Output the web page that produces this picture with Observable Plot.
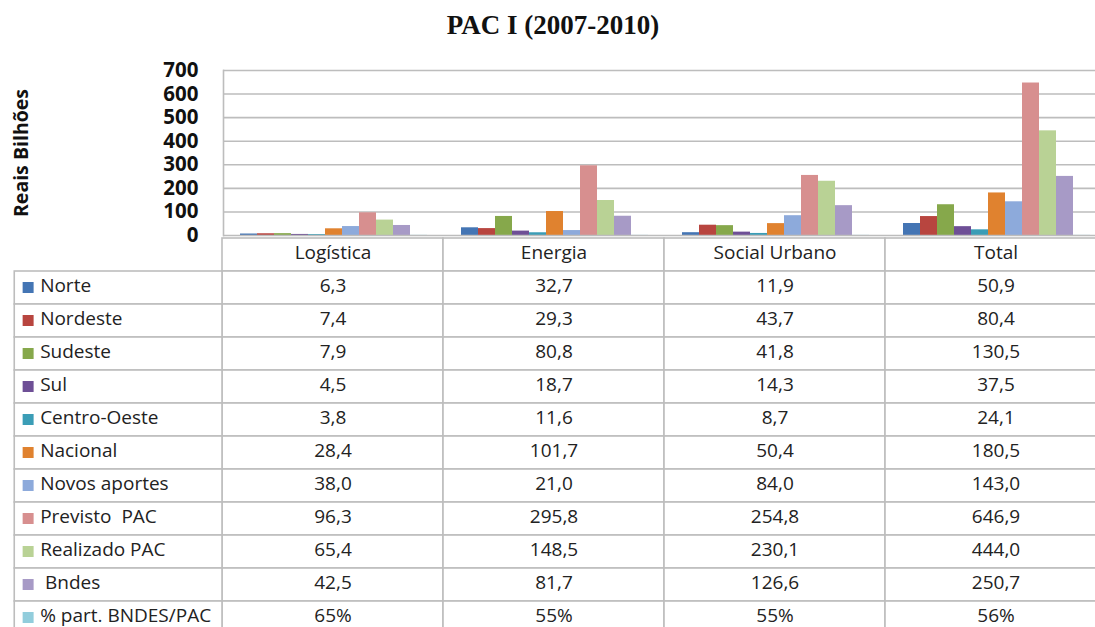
<!DOCTYPE html>
<html>
<head>
<meta charset="utf-8">
<script src="https://cdn.jsdelivr.net/npm/d3@7"></script>
<script src="https://cdn.jsdelivr.net/npm/@observablehq/plot@0.6"></script>
<style>
  html, body { margin: 0; padding: 0; background: #ffffff; overflow: hidden; }
  #wrap { position: relative; width: 1095px; height: 627px; overflow: hidden; }
  #title { position: absolute; top: 12px; left: 0; width: 1106px; text-align: center;
           font: bold 27px/1 "Liberation Serif", "Times New Roman", serif; color: #111; }
  #chart { position: absolute; top: 0; left: 0; }
  #table { position: absolute; top: 233px; left: 0; }
  svg text { white-space: pre; }
</style>
</head>
<body>
<div id="wrap">
  <div id="title"></div>
  <div id="chart"></div>
  <div id="table"></div>
</div>
<script>
// ---- data ----
const titleText = "PAC I (2007-2010)";
const yLabel = "Reais Bilhões";
const categories = ["Logística", "Energia", "Social Urbano", "Total"];
const seriesNames = ["Norte", "Nordeste", "Sudeste", "Sul", "Centro-Oeste", "Nacional",
  "Novos aportes", "Previsto  PAC", "Realizado PAC", " Bndes", "% part. BNDES/PAC"];
const norte        = [6.3, 32.7, 11.9, 50.9];
const nordeste     = [7.4, 29.3, 43.7, 80.4];
const sudeste      = [7.9, 80.8, 41.8, 130.5];
const sul          = [4.5, 18.7, 14.3, 37.5];
const centroOeste  = [3.8, 11.6, 8.7, 24.1];
const nacional     = [28.4, 101.7, 50.4, 180.5];
const novosAportes = [38.0, 21.0, 84.0, 143.0];
const previstoPAC  = [96.3, 295.8, 254.8, 646.9];
const realizadoPAC = [65.4, 148.5, 230.1, 444.0];
const bndes        = [42.5, 81.7, 126.6, 250.7];
const partBndesPac = [0.65, 0.55, 0.55, 0.56];
const yTicks = [0, 100, 200, 300, 400, 500, 600, 700];
const seriesColors = ["#4475B4", "#B8453F", "#86A84B", "#6E4F96", "#3B9DB6", "#E0822F",
  "#8DAADB", "#D78F8F", "#B9D295", "#A79AC6", "#92CDDC"];

// ---- derived tables ----
const seriesValues = [norte, nordeste, sudeste, sul, centroOeste, nacional,
  novosAportes, previstoPAC, realizadoPAC, bndes, partBndesPac];
const barData = categories.flatMap((c, i) =>
  seriesNames.map((s, j) => ({category: c, series: s, value: seriesValues[j][i]})));
const fmt = (v, j) => j === seriesNames.length - 1
  ? Math.round(v * 100) + "%"
  : v.toFixed(1).replace(".", ",");
const valueCells = categories.flatMap((c, i) =>
  seriesNames.map((s, j) => ({col: c, row: s, label: fmt(seriesValues[j][i], j)})));

// ---- layout constants ----
const W = 1110, plotLeft = 222, plotRight = 1107;
const colW = (plotRight - plotLeft) / 4;
const gridColor = "#BDBDBD";
const font = "'Open Sans', 'Liberation Sans', sans-serif";
const HEADER = "\u0000header", LABELCOL = "\u0000label";
const tableFont = 19, textShift = -2;

document.getElementById("title").textContent = titleText;

// ---- chart ----
const chart = Plot.plot({
  width: W, height: 237,
  marginTop: 70, marginBottom: 2, marginLeft: plotLeft, marginRight: W - plotRight,
  style: {background: "transparent", maxWidth: "none", overflow: "visible", fontFamily: font},
  fx: {domain: categories, padding: 0, axis: null},
  x: {domain: seriesNames, paddingInner: 0, paddingOuter: 0.8, axis: null},
  y: {domain: [0, 700], axis: null},
  color: {domain: seriesNames, range: seriesColors},
  marks: [
    Plot.ruleY(yTicks.filter(t => t > 0), {stroke: gridColor, strokeWidth: 1.6}),
    Plot.barY(barData, {fx: "category", x: "series", y: "value", fill: "series"}),
    Plot.ruleY([0], {stroke: gridColor, strokeWidth: 1.6}),
    Plot.frame({anchor: "left", facetAnchor: "left", stroke: gridColor, strokeWidth: 1.6}),
    Plot.axisY(yTicks, {tickSize: 0, tickPadding: 25, fontSize: 20.5, fontWeight: "bold",
      fontFamily: font, fill: "#111", label: null}),
    Plot.text([yLabel], {fx: () => categories[0], text: d => d, frameAnchor: "left",
      textAnchor: "middle", dx: -202, dy: 0, rotate: -90, fontSize: 19.5, fontWeight: "bold",
      fontFamily: font, fill: "#111"})
  ]
});
document.getElementById("chart").append(chart);

// ---- data table ----
const labelRows = seriesNames.map(s => ({row: s}));
const table = Plot.plot({
  width: W, height: 394,
  marginTop: 0, marginBottom: 0, marginLeft: 14, marginRight: W - plotRight,
  style: {background: "transparent", maxWidth: "none", fontFamily: font},
  x: {domain: [LABELCOL, ...categories], range: [plotLeft - colW, plotRight], padding: 0, axis: null},
  y: {domain: [HEADER, ...seriesNames], range: [2, 2 + 12 * 33.42], padding: 0, axis: null},
  color: {domain: seriesNames, range: seriesColors},
  marks: [
    Plot.cell(categories, {x: d => d, y: () => HEADER, fill: "white", stroke: gridColor, strokeWidth: 1.6}),
    Plot.cell(valueCells, {x: "col", y: "row", fill: "white", stroke: gridColor, strokeWidth: 1.6}),
    Plot.cell(labelRows, {x: () => LABELCOL, y: "row", insetLeft: 14 - (plotLeft - colW),
      fill: "white", stroke: gridColor, strokeWidth: 1.6}),
    Plot.text(categories, {x: d => d, y: () => HEADER, text: d => d, fontSize: tableFont,
      dy: textShift, fontFamily: font, fill: "#222"}),
    Plot.text(valueCells, {x: "col", y: "row", text: "label", fontSize: tableFont,
      dy: textShift, fontFamily: font, fill: "#222"}),
    Plot.dot(labelRows, {x: () => LABELCOL, y: "row", symbol: "square", r: 6.2,
      fill: "row", stroke: null, dx: 27.5 - (plotLeft - colW / 2), dy: -0.5}),
    Plot.text(labelRows, {x: () => LABELCOL, y: "row", text: "row", textAnchor: "start",
      dx: 39.5 - (plotLeft - colW / 2), dy: textShift, fontSize: tableFont, fontFamily: font, fill: "#222"})
  ]
});
document.getElementById("table").append(table);
</script>
</body>
</html>
